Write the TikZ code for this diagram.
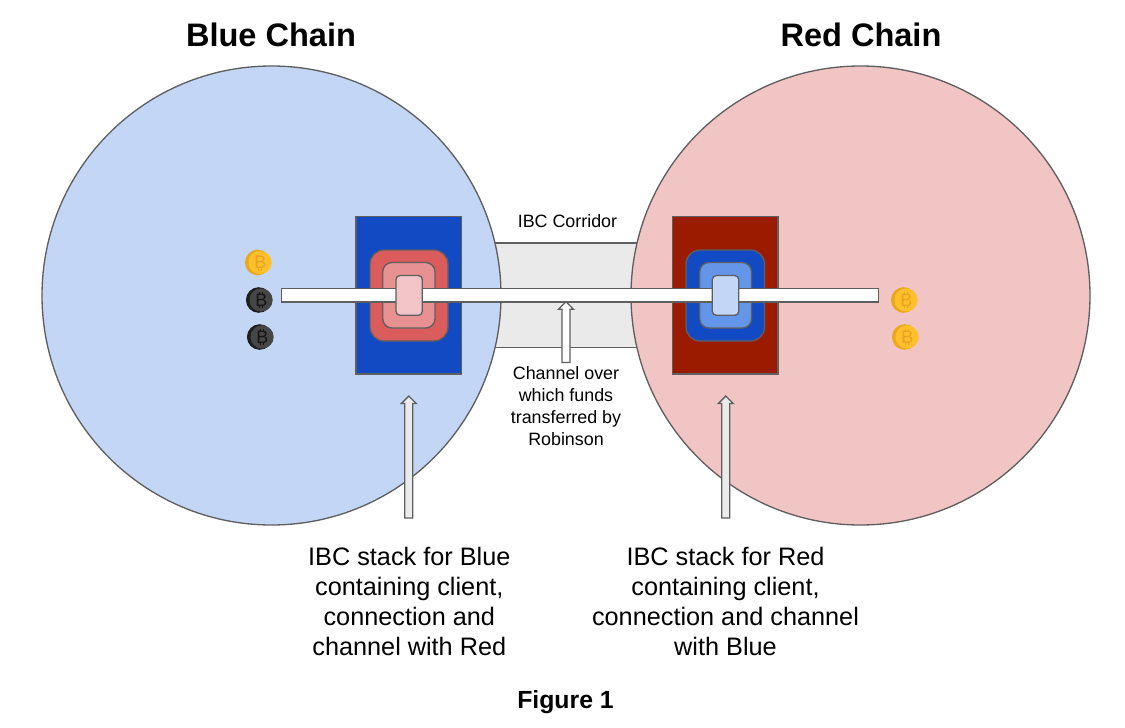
\documentclass[tikz,border=0pt]{standalone}
\usepackage{fontspec}
\setmainfont{Liberation Sans}
\definecolor{lineg}{HTML}{5F5F5F}
\definecolor{cblue}{HTML}{C3D6F6}
\definecolor{cred}{HTML}{F2C5C5}
\definecolor{bluebox}{HTML}{124AC4}
\definecolor{redbox}{HTML}{9B1B00}
\definecolor{redouter}{HTML}{DB5C5C}
\definecolor{redmid}{HTML}{E89192}
\definecolor{redinner}{HTML}{F2C6C8}
\definecolor{bluemid}{HTML}{6396E8}
\definecolor{blueinner}{HTML}{C3D6F6}
\definecolor{corr}{HTML}{EAEAEA}
\definecolor{arrowg}{HTML}{EBEBEB}
\definecolor{goldL}{HTML}{FFC02A}
\definecolor{goldD}{HTML}{E8A91C}
\definecolor{goldT}{HTML}{E4A526}
\definecolor{darkL}{HTML}{464646}
\definecolor{darkD}{HTML}{1E1E1E}
\definecolor{darkT}{HTML}{151515}
\tikzset{
  shape line/.style={draw=lineg,line width=1pt},
  title text/.style={font=\bfseries\fontsize{24.4}{29}\selectfont,anchor=center,inner sep=0pt},
  caption text/.style={font=\bfseries\fontsize{18.6}{22}\selectfont,anchor=center,inner sep=0pt},
  big text/.style={font=\fontsize{18.95}{22.5}\selectfont,align=center,anchor=center,inner sep=0pt},
  small text/.style={font=\fontsize{13.4}{16.5}\selectfont,align=center,anchor=center,inner sep=0pt},
}
% block arrow pointing up: centre x, tip y, bottom y
\newcommand{\blockup}[4]{%
  \draw[shape line,fill=#4,line join=miter]
    (#1,#2) -- (#1+7.5,#2+7.5) -- (#1+4,#2+7.5) -- (#1+4,#3)
    -- (#1-4,#3) -- (#1-4,#2+7.5) -- (#1-7.5,#2+7.5) -- cycle;}
% coin: centre x, y, light colour, dark colour, glyph colour
\newcommand{\coin}[5]{%
  \fill[#4] (#1-0.8,#2) circle[radius=12.8];
  \fill[#3] (#1+1.6,#2) circle[radius=11.6];
  \node[text=#5,font=\fontsize{13.5}{13.5}\selectfont,inner sep=0pt] (#1coin#2) at (#1+1.8,#2) {B};
  \draw[#5,line width=0.6pt] (#1-2.6,#2) -- (#1-0.2,#2) (#1+0.2,#2-8) -- (#1+0.2,#2-6) (#1+3,#2-8) -- (#1+3,#2-6) (#1+0.2,#2+6) -- (#1+0.2,#2+8) (#1+3,#2+6) -- (#1+3,#2+8);}
\begin{document}
\begin{tikzpicture}[x=0.75pt,y=-0.75pt]
\useasboundingbox (0,0) rectangle (1125,728);
\fill[white] (0,0) rectangle (1125,728);
% corridor
\draw[shape line,fill=corr] (480,243) rectangle (650,347.5);
% chains
\draw[shape line,fill=cblue] (271.5,295.5) circle[radius=229.5];
\draw[shape line,fill=cred] (860.5,295.5) circle[radius=229.5];
% blue stack
\draw[shape line,fill=bluebox] (356,216.3) rectangle (461.5,374);
\draw[shape line,fill=redouter,rounded corners=10.5pt] (370,250) rectangle (448,341);
\draw[shape line,fill=redmid,rounded corners=7pt] (382.7,262.5) rectangle (435,328);
% red stack
\draw[shape line,fill=redbox] (672.8,216.3) rectangle (778,374);
\draw[shape line,fill=bluebox,rounded corners=10.5pt] (686,250) rectangle (764.5,341);
\draw[shape line,fill=bluemid,rounded corners=7pt] (699.7,262.5) rectangle (751.5,328);
% channel
\draw[shape line,fill=white] (281.3,288.7) rectangle (878.7,302);
\draw[shape line,fill=redinner,rounded corners=3pt] (396,275.5) rectangle (422.3,315.3);
\draw[shape line,fill=blueinner,rounded corners=3pt] (712.3,275.5) rectangle (738.7,315.3);
% coins
\coin{258.5}{262.5}{goldL}{goldD}{goldT}
\coin{259.5}{300}{darkL}{darkD}{darkT}
\coin{260.5}{337}{darkL}{darkD}{darkT}
\coin{904.5}{300}{goldL}{goldD}{goldT}
\coin{905.5}{337}{goldL}{goldD}{goldT}
% arrows
\blockup{566}{301.7}{362.5}{white}
\blockup{408.8}{396}{518}{arrowg}
\blockup{725.8}{396}{518}{arrowg}
% texts
\node[title text] (bluetitle) at (271,35) {Blue Chain};
\node[title text] (redtitle) at (861,35) {Red Chain};
\node[small text] (corridor) at (567.5,221) {IBC Corridor};
\node[small text] (channel) at (566,406) {Channel over\\which funds\\transferred by\\Robinson};
\node[big text] (bluestack) at (409.3,601.5) {IBC stack for Blue\\containing client,\\connection and\\channel with Red};
\node[big text] (redstack) at (725.5,601.5) {IBC stack for Red\\containing client,\\connection and channel\\with Blue};
\node[caption text] (figure) at (565.5,702.5) {Figure 1};
\end{tikzpicture}
\end{document}
